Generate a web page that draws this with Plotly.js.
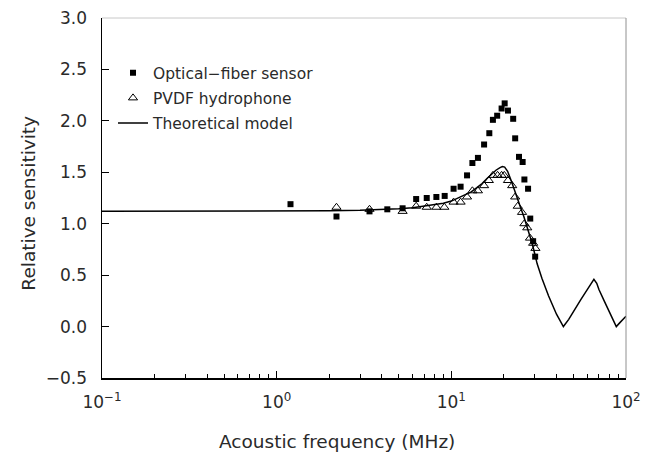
<!DOCTYPE html>
<html>
<head>
<meta charset="utf-8">
<script src="https://cdn.plot.ly/plotly-3.0.1.min.js"></script>
<style>html,body{margin:0;padding:0;background:#fff;}#chart{width:654px;height:456px;}</style>
</head>
<body>
<div id="chart"></div>
<script>
// Optical-fiber sensor (filled squares)
const fiberFreq = [1.2, 2.2, 3.4, 4.3, 5.26, 6.29, 7.23, 8.21, 9.16, 10.3, 11.3, 12.3, 13.2, 14.2, 15.4, 16.5, 17.3, 18.3, 19.4, 20.2, 21.1, 22.6, 23.2, 24.4, 25.6, 26.2, 27.5, 28.3, 29.4, 30.2];
const fiberSens = [1.19, 1.07, 1.12, 1.14, 1.15, 1.24, 1.25, 1.26, 1.27, 1.34, 1.36, 1.47, 1.59, 1.64, 1.77, 1.88, 2.01, 2.05, 2.12, 2.17, 2.10, 2.02, 1.83, 1.65, 1.60, 1.43, 1.34, 1.05, 0.83, 0.68];
// PVDF hydrophone (open triangles)
const pvdfFreq = [2.2, 3.4, 5.26, 6.29, 7.23, 8.21, 9.12, 10.3, 11.3, 12.3, 13.2, 14.2, 15.4, 16.4, 17.3, 18.4, 19.4, 20.1, 21.1, 22.3, 23.2, 24.0, 25.4, 26.2, 27.2, 28.2, 29.4, 30.3];
const pvdfSens = [1.16, 1.14, 1.12, 1.17, 1.16, 1.16, 1.16, 1.21, 1.21, 1.26, 1.32, 1.32, 1.37, 1.42, 1.47, 1.47, 1.47, 1.47, 1.42, 1.37, 1.26, 1.17, 1.11, 1.00, 0.96, 0.86, 0.81, 0.76];
// Theoretical model (solid line)
const modelFreq = [0.1, 0.5, 1, 2, 3, 4, 5, 6, 7, 8, 9, 10, 11, 12, 13, 14, 15, 16, 17, 18, 19, 19.6, 20.2, 21, 22, 23, 24, 25, 26, 27, 28, 29, 30, 31, 33, 36, 40, 43.8, 47, 50, 55, 60, 63, 65.5, 68, 70, 75, 80, 85, 88, 92, 96, 100];
const modelSens = [1.12, 1.12, 1.12, 1.125, 1.13, 1.135, 1.145, 1.155, 1.17, 1.185, 1.20, 1.22, 1.25, 1.28, 1.31, 1.35, 1.39, 1.44, 1.48, 1.52, 1.545, 1.555, 1.55, 1.51, 1.42, 1.32, 1.23, 1.15, 1.07, 0.98, 0.90, 0.81, 0.71, 0.61, 0.47, 0.30, 0.12, 0.0, 0.07, 0.15, 0.26, 0.36, 0.41, 0.46, 0.42, 0.36, 0.25, 0.15, 0.05, 0.0, 0.036, 0.07, 0.10];

const xTickVals = [0.1, 1, 10, 100];
const xTickText = ['10<sup>\u22121</sup>', '10<sup>0</sup>', '10<sup>1</sup>', '10<sup>2</sup>'];
const yTickVals = [-0.5, 0.0, 0.5, 1.0, 1.5, 2.0, 2.5, 3.0];
const yTickText = ['\u22120.5', '0.0', '0.5', '1.0', '1.5', '2.0', '2.5', '3.0'];

const names = ['Optical\u2212fiber sensor', 'PVDF hydrophone', 'Theoretical model'];
const xTitle = 'Acoustic frequency (MHz)';
const yTitle = 'Relative sensitivity';

const traces = [
  {x: fiberFreq, y: fiberSens, name: names[0], legendgroup: 'g1', type: 'scatter', mode: 'markers',
   marker: {symbol: 'square', size: 6, color: '#000'}},
  {x: pvdfFreq, y: pvdfSens, name: names[1], legendgroup: 'g2', type: 'scatter', mode: 'markers',
   marker: {symbol: 'triangle-up-open', size: 8, color: '#000', line: {width: 1, color: '#000'}}},
  {x: modelFreq, y: modelSens, name: names[2], legendgroup: 'g3', type: 'scatter', mode: 'lines',
   line: {color: '#000', width: 1.5}}
];

const fam = 'DejaVu Sans, Verdana, sans-serif';
const txt = '#2a2a2a';

const layout = {
  width: 654, height: 456,
  margin: {l: 102, r: 28, t: 18, b: 78},
  paper_bgcolor: '#fff', plot_bgcolor: '#fff',
  font: {family: fam, size: 16, color: txt},
  showlegend: true,
  legend: {x: 0.021, y: 0.894, xanchor: 'left', yanchor: 'top', bgcolor: 'rgba(0,0,0,0)',
           font: {family: fam, size: 15.5, color: txt}, tracegroupgap: 2},
  xaxis: {
    type: 'log', range: [-1, 2],
    tickvals: xTickVals, ticktext: xTickText,
    ticks: 'inside', ticklen: 7, tickcolor: '#000', tickwidth: 1,
    minor: {ticks: 'inside', ticklen: 4, tickcolor: '#000', tickwidth: 1, dtick: 'D1', showgrid: false},
    showgrid: false, zeroline: false,
    showline: true, linecolor: '#000', linewidth: 1.5,
    ticklabelstandoff: 8,
    tickfont: {family: fam, size: 17, color: txt}
  },
  yaxis: {
    range: [-0.5, 3.0],
    tickvals: yTickVals, ticktext: yTickText,
    ticks: 'inside', ticklen: 7, tickcolor: '#000', tickwidth: 1,
    showgrid: false, zeroline: false,
    showline: true, linecolor: '#000', linewidth: 1.5,
    ticklabelstandoff: 10,
    tickfont: {family: fam, size: 17, color: txt}
  },
  annotations: [
    {text: xTitle, xref: 'paper', yref: 'paper', x: 0.448, y: -0.175, xanchor: 'center', yanchor: 'middle',
     showarrow: false, font: {family: fam, size: 18.5, color: txt}},
    {text: yTitle, xref: 'paper', yref: 'paper', x: -0.142, y: 0.486, xanchor: 'center', yanchor: 'middle',
     textangle: -90, showarrow: false, font: {family: fam, size: 18.5, color: txt}}
  ],
  shapes: [
    {type: 'line', xref: 'paper', yref: 'paper', x0: 0, x1: 1, y0: 1, y1: 1, line: {color: '#c8c8c8', width: 1}},
    {type: 'line', xref: 'paper', yref: 'paper', x0: 1, x1: 1, y0: 0, y1: 1, line: {color: '#909090', width: 1}}
  ]
};

Plotly.newPlot('chart', traces, layout, {displayModeBar: false, staticPlot: true});
</script>
</body>
</html>
